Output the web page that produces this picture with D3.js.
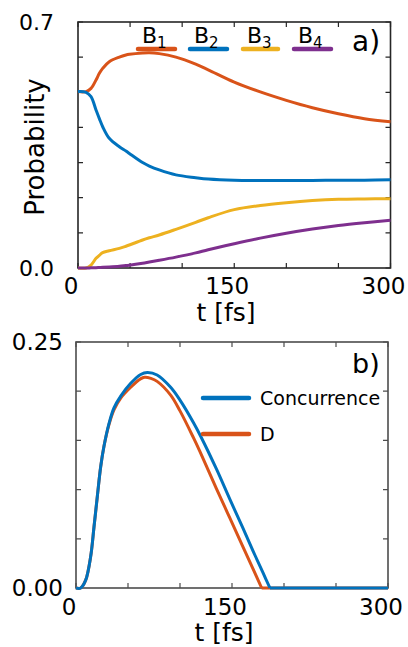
<!DOCTYPE html>
<html>
<head>
<meta charset="utf-8">
<script src="https://cdn.jsdelivr.net/npm/d3@7"></script>
<style>
  body { margin: 0; background: #fff; }
  svg { display: block; font-family: "DejaVu Sans", sans-serif; }
</style>
</head>
<body>
<svg id="chart"></svg>
<script>
// panel a) probabilities
const timeA = [0, 7.7, 12.5, 17.3, 20.5, 23.7, 30, 39.7, 46, 49.3, 62, 68.5, 78, 94, 113, 125, 150, 175, 200, 225, 250, 275, 300];
const b1 = [0.502, 0.502, 0.511, 0.535, 0.554, 0.568, 0.587, 0.600, 0.606, 0.608, 0.612, 0.6127, 0.610, 0.600, 0.580, 0.564, 0.529, 0.501, 0.477, 0.456, 0.439, 0.425, 0.416];
const b2 = [0.502, 0.500, 0.4875, 0.4496, 0.425, 0.402, 0.369, 0.345, 0.333, 0.326, 0.300, 0.290, 0.279, 0.265, 0.257, 0.253, 0.2495, 0.249, 0.249, 0.249, 0.250, 0.250, 0.251];
const b3 = [0, 0, 0.0085, 0.0275, 0.036, 0.0437, 0.049, 0.056, 0.062, 0.0654, 0.0797, 0.086, 0.094, 0.110, 0.130, 0.143, 0.166, 0.178, 0.186, 0.192, 0.1955, 0.1965, 0.197];
const b4 = [0, 0, 0.0005, 0.001, 0.0015, 0.002, 0.003, 0.005, 0.007, 0.008, 0.0135, 0.017, 0.022, 0.031, 0.043, 0.052, 0.069, 0.085, 0.099, 0.111, 0.121, 0.129, 0.136];

// panel b) concurrence and D
const timeC = [0, 4.5, 9.3, 14.1, 17.3, 20.5, 23.7, 26.9, 31.7, 36.5, 43, 52.6, 62.2, 68.6, 78, 91, 100, 113, 120, 135, 148, 160, 170.5, 180, 186.5, 200, 300];
const concurrence = [0, 0, 0.008, 0.032, 0.062, 0.093, 0.123, 0.144, 0.167, 0.183, 0.195, 0.208, 0.217, 0.219, 0.2165, 0.204, 0.191, 0.168, 0.154, 0.121, 0.090, 0.062, 0.037, 0.015, 0, 0, 0];
const timeD = [0, 4.5, 9.3, 14.1, 17.3, 20.5, 23.7, 26.9, 31.7, 36.5, 43, 52.6, 62, 66, 72, 78, 91, 100, 112.8, 119, 135, 148, 160, 170, 178.5, 200, 300];
const dValues = [0, 0, 0.008, 0.032, 0.062, 0.093, 0.123, 0.144, 0.166, 0.181, 0.193, 0.204, 0.2125, 0.2141, 0.213, 0.210, 0.196, 0.180, 0.153, 0.139, 0.101, 0.071, 0.043, 0.020, 0, 0, 0];

const xTicks = [0, 50, 100, 150, 200, 250, 300];
const xLabels = [0, 150, 300];

const colors = { b1: "#D95319", b2: "#0072BD", b3: "#EDB120", b4: "#7E2F8E" };

const width = 408;
const height = 647;

const svg = d3.select("#chart")
  .attr("width", width)
  .attr("height", height);

function drawFrame(x, y, yTicks, yLabels, yFmt, frameColor, yLabelRight, yFont, xLabelBase) {
  const [x0, x1] = x.range();
  const [y0, y1] = y.range();
  const g = svg.append("g");

  // inward ticks on all four sides
  g.selectAll(".xt")
    .data(xTicks)
    .enter()
    .append("path")
    .attr("d", d => `M${x(d)},${y0}v-5M${x(d)},${y1}v5`)
    .attr("stroke", frameColor)
    .attr("stroke-width", 1.2);

  g.selectAll(".yt")
    .data(yTicks)
    .enter()
    .append("path")
    .attr("d", d => `M${x0},${y(d)}h5M${x1},${y(d)}h-5`)
    .attr("stroke", frameColor)
    .attr("stroke-width", 1.2);

  g.append("rect")
    .attr("x", x0)
    .attr("y", y1)
    .attr("width", x1 - x0)
    .attr("height", y0 - y1)
    .attr("fill", "none")
    .attr("stroke", frameColor)
    .attr("stroke-width", 1.6);

  g.selectAll(".yl")
    .data(yLabels)
    .enter()
    .append("text")
    .attr("x", yLabelRight)
    .attr("y", d => y(d))
    .attr("dy", "0.36em")
    .attr("text-anchor", "end")
    .style("font-size", yFont + "px")
    .text(yFmt);

  g.selectAll(".xl")
    .data(xLabels)
    .enter()
    .append("text")
    .attr("x", d => x(d) - 7)
    .attr("y", xLabelBase)
    .attr("text-anchor", "middle")
    .style("font-size", "23px")
    .text(d => d);
}

// smooth line; if the series drops to zero and stays there, the flat tail is drawn straight
function drawLine(x, y, xs, ys, color) {
  const pts = xs.map((t, i) => [t, ys[i]]);
  let cut = pts.length - 1;
  while (cut > 0 && pts[cut - 1][1] === 0 && pts[cut][1] === 0) cut--;
  const pieces = [
    { pts: pts.slice(0, cut + 1), curve: d3.curveCatmullRom.alpha(0.5) },
    { pts: pts.slice(cut), curve: d3.curveLinear }
  ];
  pieces.forEach(p => {
    if (p.pts.length < 2) return;
    const line = d3.line()
      .x(d => x(d[0]))
      .y(d => y(d[1]))
      .curve(p.curve);
    svg.append("path")
      .datum(p.pts)
      .attr("d", line)
      .attr("fill", "none")
      .attr("stroke", color)
      .attr("stroke-width", 3)
      .attr("stroke-linejoin", "round");
  });
}

// ---- panel a)
const xA = d3.scaleLinear().domain([0, 300]).range([78, 390.5]);
const yA = d3.scaleLinear().domain([0, 0.7]).range([268, 22]);

drawFrame(xA, yA, d3.range(0, 0.71, 0.1), [0, 0.7], d => d.toFixed(1), "#262626", 54, 22, 294);

drawLine(xA, yA, timeA, b1, colors.b1);
drawLine(xA, yA, timeA, b2, colors.b2);
drawLine(xA, yA, timeA, b3, colors.b3);
drawLine(xA, yA, timeA, b4, colors.b4);

// legend a)
const legendA = [
  { key: "b1", sub: "1", x0: 138, x1: 175 },
  { key: "b2", sub: "2", x0: 190, x1: 227 },
  { key: "b3", sub: "3", x0: 243, x1: 278 },
  { key: "b4", sub: "4", x0: 294, x1: 331 }
];

svg.selectAll(".legA")
  .data(legendA)
  .enter()
  .append("line")
  .attr("x1", d => d.x0)
  .attr("x2", d => d.x1)
  .attr("y1", 49)
  .attr("y2", 49)
  .attr("stroke", d => colors[d.key])
  .attr("stroke-width", 4.5)
  .attr("stroke-linecap", "round");

const legText = svg.selectAll(".legAText")
  .data(legendA)
  .enter()
  .append("text")
  .attr("x", d => d.x0 + 4)
  .attr("y", 43)
  .style("font-size", "22px");
legText.append("tspan").text("B");
legText.append("tspan")
  .attr("dy", 5)
  .style("font-size", "15px")
  .text(d => d.sub);

svg.append("text")
  .attr("x", 352)
  .attr("y", 51)
  .style("font-size", "28px")
  .text("a)");

svg.append("text")
  .attr("transform", "translate(44,147) rotate(-90)")
  .attr("text-anchor", "middle")
  .style("font-size", "26px")
  .text("Probability");

svg.append("text")
  .attr("x", 226)
  .attr("y", 321)
  .attr("text-anchor", "middle")
  .style("font-size", "25px")
  .text("t [fs]");

// ---- panel b)
const xB = d3.scaleLinear().domain([0, 300]).range([76, 388]);
const yB = d3.scaleLinear().domain([0, 0.25]).range([588, 342]);

drawFrame(xB, yB, d3.range(0, 0.251, 0.05), [0, 0.25], d => d.toFixed(2), "#4d4d4d", 63, 23, 615);

drawLine(xB, yB, timeD, dValues, colors.b1);
drawLine(xB, yB, timeC, concurrence, colors.b2);

const legendB = [
  { name: "Concurrence", color: colors.b2, y: 398 },
  { name: "D", color: colors.b1, y: 434 }
];

svg.selectAll(".legB")
  .data(legendB)
  .enter()
  .append("line")
  .attr("x1", 203)
  .attr("x2", 249)
  .attr("y1", d => d.y)
  .attr("y2", d => d.y)
  .attr("stroke", d => d.color)
  .attr("stroke-width", 4.5)
  .attr("stroke-linecap", "round");

svg.selectAll(".legBText")
  .data(legendB)
  .enter()
  .append("text")
  .attr("x", 260)
  .attr("y", d => d.y + 7)
  .style("font-size", "19px")
  .text(d => d.name);

svg.append("text")
  .attr("x", 352)
  .attr("y", 373)
  .style("font-size", "27px")
  .text("b)");

svg.append("text")
  .attr("x", 224)
  .attr("y", 641)
  .attr("text-anchor", "middle")
  .style("font-size", "25px")
  .text("t [fs]");
</script>
</body>
</html>
